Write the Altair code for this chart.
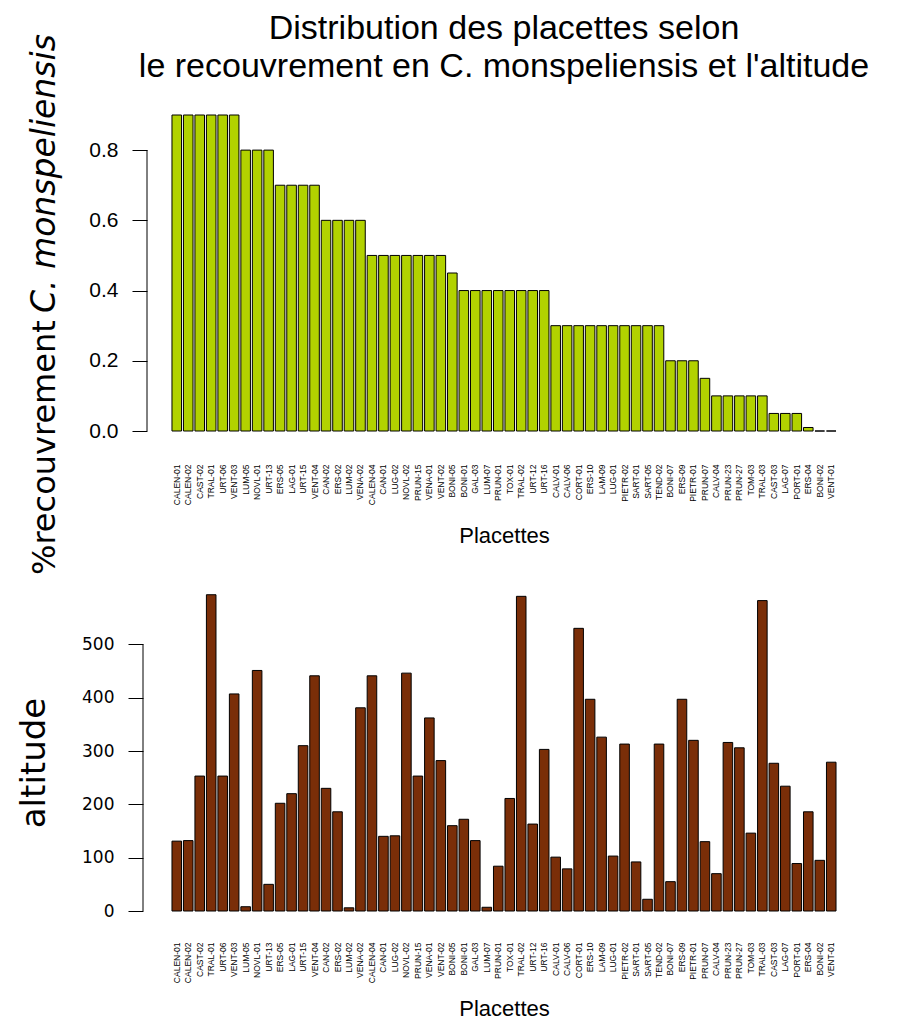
import altair as alt
import pandas as pd

# Plot identifiers, in decreasing order of C. monspeliensis cover
placettes = [
    "CALEN-01", "CALEN-02", "CAST-02", "TRAL-01", "URT-06", "VENT-03",
    "LUM-05", "NOVL-01", "URT-13", "ERS-05", "LAG-01", "URT-15", "VENT-04",
    "CAN-02", "ERS-02", "LUM-02", "VENA-02", "CALEN-04", "CAN-01", "LUG-02",
    "NOVL-02", "PRUN-15", "VENA-01", "VENT-02", "BONI-05", "BONI-01",
    "GAL-03", "LUM-07", "PRUN-01", "TOX-01", "TRAL-02", "URT-12", "URT-16",
    "CALV-01", "CALV-06", "CORT-01", "ERS-10", "LAM-09", "LUG-01",
    "PIETR-02", "SART-01", "SART-05", "TEND-02", "BONI-07", "ERS-09",
    "PIETR-01", "PRUN-07", "CALV-04", "PRUN-23", "PRUN-27", "TOM-03",
    "TRAL-03", "CAST-03", "LAG-07", "PORT-01", "ERS-04", "BONI-02", "VENT-01",
]

# Fraction of the plot covered by C. monspeliensis
recouvrement = [
    0.9, 0.9, 0.9, 0.9, 0.9, 0.9,
    0.8, 0.8, 0.8,
    0.7, 0.7, 0.7, 0.7,
    0.6, 0.6, 0.6, 0.6,
    0.5, 0.5, 0.5, 0.5, 0.5, 0.5, 0.5,
    0.45,
    0.4, 0.4, 0.4, 0.4, 0.4, 0.4, 0.4, 0.4,
    0.3, 0.3, 0.3, 0.3, 0.3, 0.3, 0.3, 0.3, 0.3, 0.3,
    0.2, 0.2, 0.2,
    0.15,
    0.1, 0.1, 0.1, 0.1, 0.1,
    0.05, 0.05, 0.05,
    0.01, 0.0, 0.0,
]

# Altitude of each plot (m)
altitude = [
    131, 132, 253, 593, 253, 407, 8, 451, 50, 202, 220, 310, 441, 230, 186,
    6, 381, 441, 140, 141, 446, 253, 362, 282, 160, 172, 132, 7, 84, 211,
    590, 163, 303, 101, 79, 530, 397, 326, 103, 313, 92, 22, 313, 55, 397,
    320, 130, 70, 316, 306, 146, 582, 277, 234, 89, 186, 95, 279,
]

df = pd.DataFrame({"placette": placettes, "recouvrement": recouvrement,
                   "altitude": altitude})

W, H_TOP, H_BOT = 676, 316, 320
LABEL_FONT = "Liberation Sans"
TITLE_FONT = "DejaVu Sans"


def x_enc(label_pad, title_pad):
    """Category axis shared by both panels: vertical labels, no ticks."""
    axis = alt.Axis(
        title="Placettes", labelAngle=-90, labelFontSize=8.5,
        labelFont=LABEL_FONT, labelColor="black", labelPadding=label_pad,
        ticks=False, domain=False, titleFont=LABEL_FONT, titleFontSize=22,
        titleFontWeight="normal", titleColor="black", titlePadding=title_pad,
    )
    return alt.X("placette:N", sort=placettes, axis=axis,
                 scale=alt.Scale(paddingInner=0.1667, paddingOuter=0.52))


# ---- top panel: cover ----
bars_top = alt.Chart(df).mark_bar(
    color="#b2d200", stroke="black", strokeWidth=1
).encode(
    x=x_enc(33, 21),
    y=alt.Y("recouvrement:Q", scale=alt.Scale(domain=[0, 0.9]),
            axis=alt.Axis(title=None, values=[0, 0.2, 0.4, 0.6, 0.8],
                          format=".1f", domain=False, offset=19,
                          tickSize=15, tickColor="black", labelPadding=14,
                          labelFont=LABEL_FONT, labelFontSize=21,
                          labelColor="black", grid=False)),
)
# axis line spanning only the labelled ticks
axis_line_top = alt.Chart(
    pd.DataFrame({"recouvrement": [0.0], "fin": [0.8]})
).mark_rule(color="black", strokeWidth=1).encode(
    y="recouvrement:Q", y2="fin:Q", x=alt.value(-19)
)

ytitle_a = alt.Chart(pd.DataFrame({"t": ["%recouvrement"]})).mark_text(
    angle=270, align="left", baseline="middle", font=TITLE_FONT,
    fontSize=32, color="black"
).encode(text="t:N", x=alt.value(-121), y=alt.value(460))
ytitle_b = alt.Chart(pd.DataFrame({"t": ["C. monspeliensis"]})).mark_text(
    angle=270, align="left", baseline="middle", font=TITLE_FONT,
    fontSize=33, fontStyle="italic", color="black"
).encode(text="t:N", x=alt.value(-121), y=alt.value(198))

top = alt.layer(bars_top, axis_line_top, ytitle_a, ytitle_b).properties(
    width=W, height=H_TOP,
    title=alt.TitleParams(
        text=["Distribution des placettes selon",
              "le recouvrement en C. monspeliensis et l'altitude"],
        font=LABEL_FONT, fontSize=34, fontWeight="normal", color="black",
        lineHeight=38, anchor="middle", frame="group", offset=-50,
    ),
)

# ---- bottom panel: altitude ----
bars_bot = alt.Chart(df).mark_bar(
    color="#7a2e08", stroke="black", strokeWidth=1
).encode(
    x=x_enc(31, 16),
    y=alt.Y("altitude:Q", scale=alt.Scale(domain=[0, 600]),
            axis=alt.Axis(title=None, values=[0, 100, 200, 300, 400, 500],
                          domain=False, offset=23, tickSize=15,
                          tickColor="black", labelPadding=14,
                          labelFont=TITLE_FONT, labelFontSize=17,
                          labelColor="black", grid=False)),
)
axis_line_bot = alt.Chart(
    pd.DataFrame({"altitude": [0], "fin": [500]})
).mark_rule(color="black", strokeWidth=1).encode(
    y="altitude:Q", y2="fin:Q", x=alt.value(-23)
)

ytitle_alt = alt.Chart(pd.DataFrame({"t": ["altitude"]})).mark_text(
    angle=270, align="center", baseline="middle", font=TITLE_FONT,
    fontSize=34, color="black"
).encode(text="t:N", x=alt.value(-131), y=alt.value(172))

bottom = alt.layer(bars_bot, axis_line_bot, ytitle_alt).properties(
    width=W, height=H_BOT
)

chart = alt.vconcat(top, bottom, spacing=160, bounds="flush").properties(
    padding={"left": 18, "top": 12, "right": 5, "bottom": 5}
).configure(background="white").configure_view(stroke=None)

chart.save("out.html", embed_options={"renderer": "svg", "actions": False})
